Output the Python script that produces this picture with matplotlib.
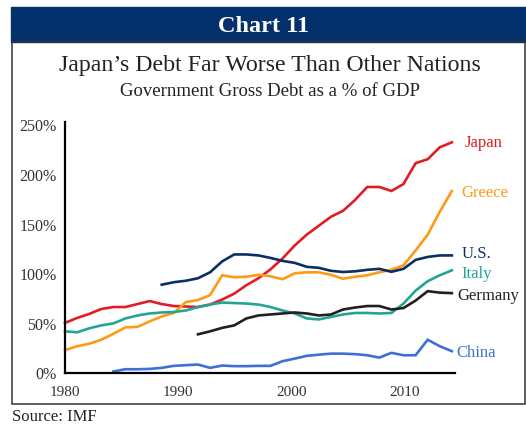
import numpy as np
import matplotlib
matplotlib.use("Agg")
import matplotlib.pyplot as plt
from matplotlib.patches import Rectangle

years = list(range(1980, 2013))
nan = np.nan
japan = [50, 55, 59, 64, 66, 66, 69, 72, 69, 67, 66.5, 66, 68.5, 73.5, 79.5, 88, 95, 104,
         115, 128, 139, 148, 157, 163, 174, 187, 187, 183, 190, 211, 215, 227, 232]
greece = [22.5, 26.5, 29, 33, 39, 45.5, 46, 51.5, 56.5, 60, 71, 73, 78, 98, 96, 96.5, 98.5, 97,
          94, 100, 101, 101, 98.5, 94.5, 96.5, 98, 101, 103.5, 108, 123, 139, 162, 183]
us = [nan] * 8 + [88.5, 91, 92.5, 95, 101, 112, 119, 119, 118, 115.5, 112.5, 110.5, 106.5,
                  105.5, 102.5, 101.3, 102, 103.5, 104.5, 101.5, 104.5, 113.5, 116.5, 118, 118]
italy = [41.5, 40.5, 44.5, 47.5, 49.5, 54.5, 57.5, 59.5, 60.5, 61, 62.5, 66, 68.5, 70.5, 70,
         69.5, 68.5, 66, 62.5, 59.5, 54.5, 53.5, 56, 58.5, 60, 60, 59.5, 60, 69.5, 82.5, 92, 98, 103]
germany = [nan] * 11 + [38.5, 41.5, 45, 47.5, 54.5, 57.5, 58.5, 59.5, 60.5, 59.5, 57.5, 58.5,
                        63.5, 65.5, 67, 67, 63.5, 65, 72.5, 82, 80.5, 80]
china = [nan] * 4 + [1, 3.3, 3.3, 3.6, 4.7, 6.7, 7.4, 8, 4.7, 7, 6.4, 6.4, 6.7, 6.7, 11.4, 14,
                     16.8, 18, 19, 19, 18.5, 17.4, 15, 19.8, 17.4, 17.4, 33, 26.5, 21.5]

series_names = ["Japan", "Greece", "U.S.", "Italy", "Germany", "China"]
series_values = [japan, greece, us, italy, germany, china]
colors = ["#e31b23", "#ff9a14", "#0b2f63", "#22a596", "#231f20", "#3d6fd8"]
ytick_vals = [0, 50, 100, 150, 200, 250]
xtick_labels = ["1980", "1990", "2000", "2010"]

W, H = 526, 427
fig = plt.figure(figsize=(W / 100, H / 100), dpi=100)
serif = ["Liberation Serif", "DejaVu Serif"]

# header band
fig.patches.append(Rectangle((11 / W, 1 - 43 / H), (W - 11) / W, 35 / H,
                             transform=fig.transFigure, color="#03306b", zorder=0))
# frame
fig.patches.append(Rectangle((11.5 / W, 1 - 405 / H), (525 - 11.5) / W, (405 - 43) / H,
                             transform=fig.transFigure, fill=False, edgecolor="#333333",
                             linewidth=1.1, zorder=0))

fig.text(263 / W, 1 - 26 / H, "Chart 11", color="white", fontsize=17.5, fontweight="bold",
         family=serif, ha="center", va="center")
fig.text(270 / W, 1 - 66 / H, "Japan\u2019s Debt Far Worse Than Other Nations", color="#222222",
         fontsize=17.2, family=serif, ha="center", va="center")
fig.text(270 / W, 1 - 92 / H, "Government Gross Debt as a % of GDP", color="#222222",
         fontsize=13.5, family=serif, ha="center", va="center")
fig.text(12 / W, 1 - 417 / H, "Source: IMF", color="#222222", fontsize=12, family=serif,
         ha="left", va="center")

ax = fig.add_axes([65 / W, (H - 373.5) / H, (455 - 65) / W, (373.5 - 123) / H])
ax.set_xlim(1980, 2012.26)
ax.set_ylim(0, 252.5)
ax.patch.set_alpha(0)

for name, vals, c in zip(series_names, series_values, colors):
    ax.plot(years, vals, color=c, linewidth=1.9, solid_joinstyle="miter", clip_on=False)

label_offsets = {"Japan": (13, 0), "Greece": (10, -1), "U.S.": (10, 2), "Italy": (10, -3),
                 "Germany": (6, -2), "China": (5, -1)}
for name, vals, c in zip(series_names, series_values, colors):
    dx, dy = label_offsets[name]
    ax.annotate(name, xy=(years[-1], vals[-1]), xytext=(dx * 0.72, dy * 0.72),
                textcoords="offset points", color=c, fontsize=12, family=serif,
                ha="left", va="center")

for s in ["top", "right"]:
    ax.spines[s].set_visible(False)
for s in ["left", "bottom"]:
    ax.spines[s].set_linewidth(1.6)
    ax.spines[s].set_color("black")

ax.set_yticks(ytick_vals)
ax.set_yticklabels([f"{v}%" for v in ytick_vals], family=serif, fontsize=11.5, color="#333333")
# tick label pixel positions as they appear in the reference
xt_pos = [1980, 1980 + (178 - 65) / 12.09, 1980 + (292 - 65) / 12.09, 1980 + (405 - 65) / 12.09]
ax.set_xticks(xt_pos)
ax.set_xticklabels(xtick_labels, family=serif, fontsize=11, color="#333333")
ax.tick_params(axis="both", length=0)
ax.tick_params(axis="y", pad=6)
ax.tick_params(axis="x", pad=9)

fig.savefig("out.png", dpi=100)
